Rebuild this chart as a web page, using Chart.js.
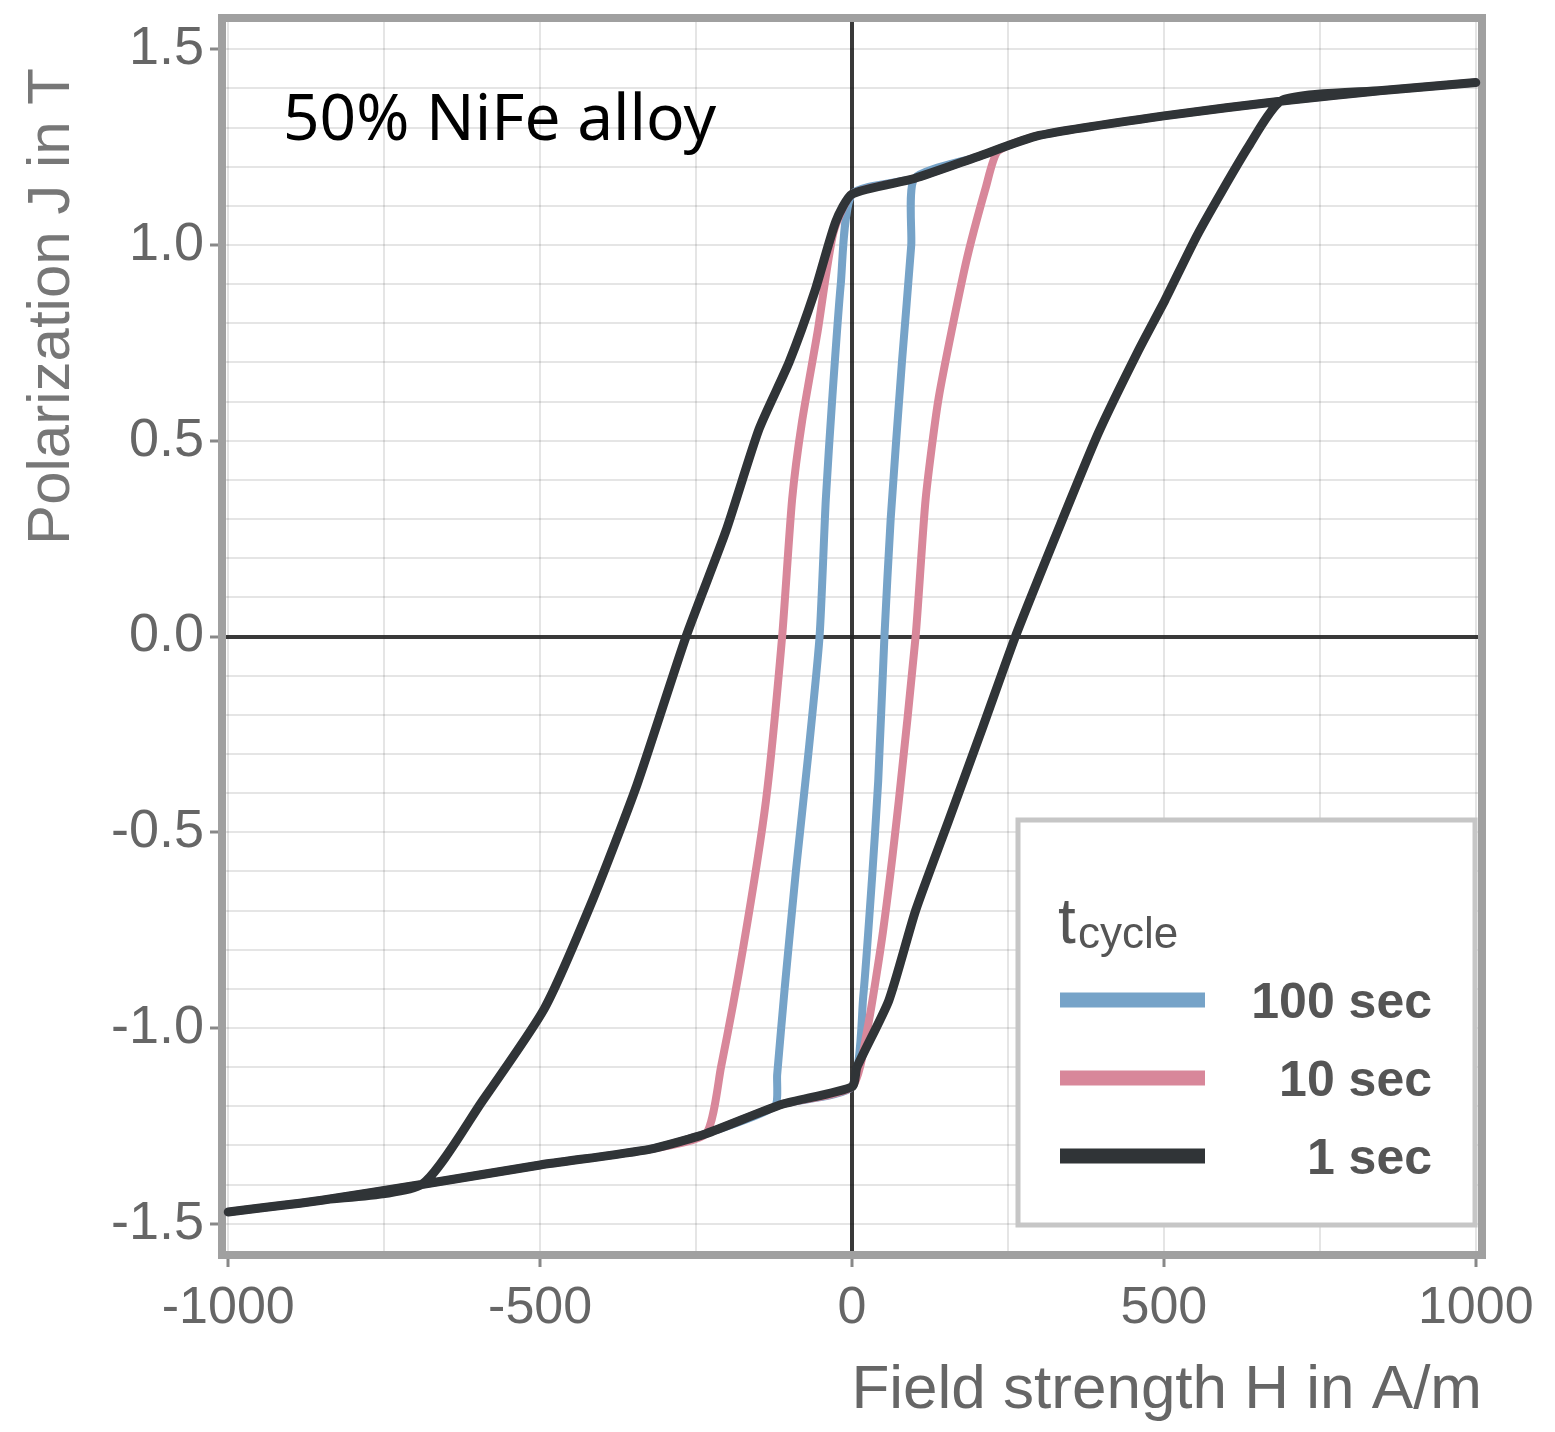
<!DOCTYPE html>
<html>
<head>
<meta charset="utf-8">
<script src="https://cdn.jsdelivr.net/npm/chart.js@4.4.0/dist/chart.umd.min.js"></script>
<style>
  html, body { margin: 0; padding: 0; background: #fff; }
  #wrap { width: 1555px; height: 1432px; }
</style>
</head>
<body>
<div id="wrap"><canvas id="loop"></canvas></div>
<script>
// labelled ticks
const xTickLabels = [-1000, -500, 0, 500, 1000];
const yTickLabels = [-1.5, -1.0, -0.5, 0, 0.5, 1.0, 1.5];
const cycleNames = ["100 sec", "10 sec", "1 sec"];

// t_cycle = 100 sec  (field strength H in A/m, polarization J in T)
const hSlow = [1000, 850, 700, 500, 300, 200, 100, 0, -18, -32, -42, -52, -70, -90, -108, -120, -124, -234, -325, -500, -690, -850, -1000,
               -850, -690, -500, -325, -234, -112, 0, 18, 32, 42, 52, 62, 80, 95, 100, 200, 300, 500, 700, 850, 1000];
const jSlow = [1.415, 1.395, 1.37, 1.33, 1.28, 1.225, 1.17, 1.13, 0.9, 0.6, 0.35, 0, -0.3, -0.6, -0.9, -1.12, -1.2, -1.27, -1.31, -1.35, -1.40, -1.44, -1.47,
               -1.44, -1.40, -1.35, -1.31, -1.27, -1.195, -1.15, -0.92, -0.62, -0.37, 0, 0.3, 0.7, 1.0, 1.17, 1.225, 1.28, 1.33, 1.37, 1.395, 1.415];

// t_cycle = 10 sec
const hMid = [1000, 850, 700, 500, 300, 200, 100, 0, -30, -55, -80, -96, -112, -138, -175, -210, -234, -325, -500, -690, -850, -1000,
              -850, -690, -500, -325, -234, -112, 0, 25, 50, 75, 102, 118, 139, 182, 215, 234, 300, 500, 700, 850, 1000];
const jMid = [1.415, 1.395, 1.37, 1.33, 1.28, 1.225, 1.17, 1.13, 1.03, 0.78, 0.55, 0.35, 0, -0.42, -0.80, -1.10, -1.27, -1.31, -1.35, -1.40, -1.44, -1.47,
              -1.44, -1.40, -1.35, -1.31, -1.27, -1.195, -1.15, -1.0, -0.75, -0.42, 0, 0.35, 0.61, 0.95, 1.15, 1.24, 1.28, 1.33, 1.37, 1.395, 1.415];

// t_cycle = 1 sec
const hFast = [1000, 850, 700, 500, 300, 200, 100, 0, -26, -60, -101, -149, -202, -266, -345, -415, -493, -594, -690, -850, -1000,
               -850, -690, -500, -325, -234, -112, 0, 8, 59, 102, 155, 210, 262, 330, 395, 459, 502, 555, 635, 690, 850, 1000];
const jFast = [1.415, 1.395, 1.37, 1.33, 1.28, 1.225, 1.17, 1.13, 1.06, 0.88, 0.70, 0.53, 0.27, 0, -0.38, -0.67, -0.95, -1.19, -1.40, -1.44, -1.47,
               -1.44, -1.40, -1.35, -1.31, -1.27, -1.195, -1.15, -1.10, -0.93, -0.70, -0.47, -0.23, 0, 0.27, 0.52, 0.73, 0.86, 1.03, 1.25, 1.37, 1.395, 1.415];

const colors = ["#76a3c8", "#d8879a", "#303437"];
const widths = [8, 8, 9];

// grid positions (minor lines)
const xGrid = [];
for (let k = -4; k <= 4; k++) xGrid.push(k * 250);
const yGrid = [];
for (let k = -15; k <= 15; k++) yGrid.push(k / 10);

function isLabel(v, list) {
    return list.some(t => Math.abs(t - v) < 1e-9);
}

function points(hs, js) {
    return hs.map((h, i) => ({x: h, y: js[i]}));
}

const series = [[hSlow, jSlow], [hMid, jMid], [hFast, jFast]];
const drawOrder = [2, 1, 0];   // black on top

const datasets = series.map((s, i) => ({
    label: cycleNames[i],
    data: points(s[0], s[1]),
    borderColor: colors[i],
    borderWidth: widths[i],
    showLine: true,
    fill: false,
    pointRadius: 0,
    tension: 0.2,
    borderJoinStyle: "round",
    borderCapStyle: "round",
    order: drawOrder[i]
}));

const gridColor = ctx => {
    if (ctx.tick && ctx.tick.value === 0) return "rgba(35,35,35,0.9)";
    return "rgba(0,0,0,0.10)";
};
const gridWidth = ctx => (ctx.tick && ctx.tick.value === 0 ? 4 : 2);

const frameAndNotes = {
    id: "frameAndNotes",
    beforeDatasetsDraw(chart) {
        const {ctx, chartArea: a} = chart;
        ctx.save();
        ctx.strokeStyle = "#a0a0a0";
        ctx.lineWidth = 8;
        ctx.strokeRect(a.left, a.top, a.right - a.left, a.bottom - a.top);
        ctx.restore();
    },
    afterDraw(chart) {
        const {ctx, chartArea: a} = chart;
        ctx.save();
        ctx.textBaseline = "alphabetic";

        // note in the upper left
        ctx.fillStyle = "#000";
        ctx.font = '64px "Noto Sans"';
        ctx.textAlign = "left";
        ctx.fillText("50% NiFe alloy", a.left + 61, a.top + 122);

        // legend box
        const bx = a.right - 464, by = a.bottom - 435, bw = 457, bh = 405;
        ctx.fillStyle = "#fff";
        ctx.fillRect(bx, by, bw, bh);
        ctx.strokeStyle = "#c6c6c6";
        ctx.lineWidth = 5;
        ctx.strokeRect(bx, by, bw, bh);

        ctx.fillStyle = "#555";
        ctx.font = '64px "Liberation Sans"';
        ctx.fillText("t", bx + 40, by + 123);
        ctx.font = '44px "Liberation Sans"';
        ctx.fillText("cycle", bx + 60, by + 128);

        chart.data.datasets.forEach((ds, i) => {
            const y = by + 180 + i * 78;
            ctx.strokeStyle = ds.borderColor;
            ctx.lineWidth = 15;
            ctx.lineCap = "butt";
            ctx.beginPath();
            ctx.moveTo(bx + 42, y);
            ctx.lineTo(bx + 187, y);
            ctx.stroke();
            ctx.fillStyle = "#555";
            ctx.font = 'bold 50px "Liberation Sans"';
            ctx.textAlign = "right";
            ctx.fillText(ds.label, bx + 414, y + 18);
            ctx.textAlign = "left";
        });
        ctx.restore();
    }
};

new Chart(document.getElementById("loop"), {
    type: "scatter",
    data: {datasets: datasets},
    options: {
        responsive: true,
        maintainAspectRatio: false,
        animation: false,
        layout: {padding: {top: 18, right: 73, bottom: 0, left: 0}},
        plugins: {
            legend: {display: false},
            tooltip: {enabled: false}
        },
        scales: {
            x: {
                type: "linear",
                min: -1010,
                max: 1010,
                afterBuildTicks: s => { s.ticks = xGrid.map(v => ({value: v})); },
                afterFit: s => { s.height = 177; s.paddingLeft = 0; s.paddingRight = 0; },
                ticks: {
                    autoSkip: false,
                    maxRotation: 0,
                    padding: 10,
                    color: "#666",
                    font: {family: "Liberation Sans", size: 52},
                    callback: v => (isLabel(v, xTickLabels) ? String(v) : "")
                },
                grid: {
                    color: gridColor,
                    lineWidth: gridWidth,
                    tickLength: 12,
                    tickWidth: 3,
                    tickColor: ctx => (ctx.tick && isLabel(ctx.tick.value, xTickLabels) ? "#888" : "rgba(0,0,0,0)")
                },
                border: {color: "#a0a0a0", width: 8},
                title: {
                    display: true,
                    text: "Field strength H in A/m",
                    align: "end",
                    color: "#666",
                    font: {family: "Liberation Sans", size: 62},
                    padding: {top: 0, bottom: 4}
                }
            },
            y: {
                type: "linear",
                min: -1.58,
                max: 1.58,
                afterBuildTicks: s => { s.ticks = yGrid.map(v => ({value: v})); },
                afterFit: s => { s.width = 222; s.paddingTop = 0; s.paddingBottom = 0; },
                ticks: {
                    autoSkip: false,
                    padding: 6,
                    color: "#666",
                    font: {family: "Liberation Sans", size: 54},
                    callback: v => (isLabel(v, yTickLabels) ? v.toFixed(1) : "")
                },
                grid: {
                    color: gridColor,
                    lineWidth: gridWidth,
                    tickLength: 12,
                    tickWidth: 3,
                    tickColor: ctx => (ctx.tick && isLabel(ctx.tick.value, yTickLabels) ? "#888" : "rgba(0,0,0,0)")
                },
                border: {color: "#a0a0a0", width: 8},
                title: {
                    display: true,
                    text: "Polarization J in T   ",
                    align: "end",
                    color: "#777",
                    font: {family: "Liberation Sans", size: 60},
                    padding: {top: 16, bottom: 0}
                }
            }
        }
    },
    plugins: [frameAndNotes]
});
</script>
</body>
</html>
